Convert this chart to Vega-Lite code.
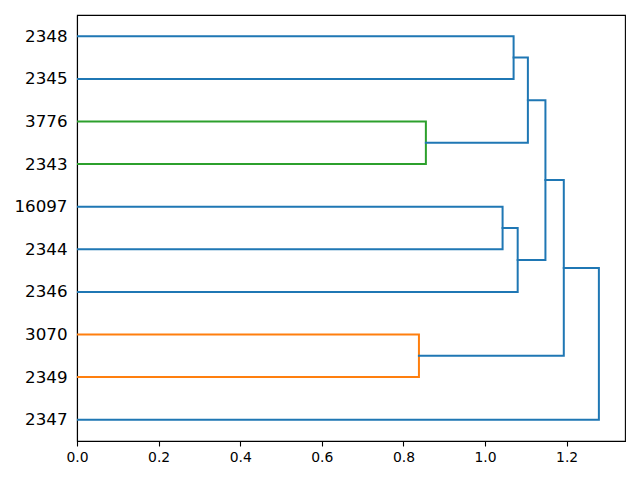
{
  "$schema": "https://vega.github.io/schema/vega-lite/v6.json",
  "width": 548,
  "height": 426,
  "autosize": {"type": "none"},
  "padding": {"left": 77, "top": 15, "right": 15, "bottom": 39},
  "background": "white",
  "config": {
    "view": {"stroke": "black", "strokeWidth": 1.1},
    "font": "DejaVu Sans",
    "axis": {"grid": false, "domainColor": "black", "domainWidth": 1.1, "tickColor": "black", "tickWidth": 1.1, "labelColor": "black", "labelFont": "DejaVu Sans", "title": null}
  },
  "data": {
    "values": [
      {"link": 1, "ord": 1, "h": 0, "pos": 15, "group": "C1"},
      {"link": 1, "ord": 2, "h": 0.838, "pos": 15, "group": "C1"},
      {"link": 1, "ord": 3, "h": 0.838, "pos": 25, "group": "C1"},
      {"link": 1, "ord": 4, "h": 0, "pos": 25, "group": "C1"},
      {"link": 2, "ord": 1, "h": 0, "pos": 65, "group": "C2"},
      {"link": 2, "ord": 2, "h": 0.855, "pos": 65, "group": "C2"},
      {"link": 2, "ord": 3, "h": 0.855, "pos": 75, "group": "C2"},
      {"link": 2, "ord": 4, "h": 0, "pos": 75, "group": "C2"},
      {"link": 3, "ord": 1, "h": 0, "pos": 85, "group": "C0"},
      {"link": 3, "ord": 2, "h": 1.070, "pos": 85, "group": "C0"},
      {"link": 3, "ord": 3, "h": 1.070, "pos": 95, "group": "C0"},
      {"link": 3, "ord": 4, "h": 0, "pos": 95, "group": "C0"},
      {"link": 4, "ord": 1, "h": 0, "pos": 45, "group": "C0"},
      {"link": 4, "ord": 2, "h": 1.043, "pos": 45, "group": "C0"},
      {"link": 4, "ord": 3, "h": 1.043, "pos": 55, "group": "C0"},
      {"link": 4, "ord": 4, "h": 0, "pos": 55, "group": "C0"},
      {"link": 5, "ord": 1, "h": 0, "pos": 35, "group": "C0"},
      {"link": 5, "ord": 2, "h": 1.080, "pos": 35, "group": "C0"},
      {"link": 5, "ord": 3, "h": 1.080, "pos": 50, "group": "C0"},
      {"link": 5, "ord": 4, "h": 1.043, "pos": 50, "group": "C0"},
      {"link": 6, "ord": 1, "h": 0.855, "pos": 70, "group": "C0"},
      {"link": 6, "ord": 2, "h": 1.105, "pos": 70, "group": "C0"},
      {"link": 6, "ord": 3, "h": 1.105, "pos": 90, "group": "C0"},
      {"link": 6, "ord": 4, "h": 1.070, "pos": 90, "group": "C0"},
      {"link": 7, "ord": 1, "h": 1.080, "pos": 42.5, "group": "C0"},
      {"link": 7, "ord": 2, "h": 1.148, "pos": 42.5, "group": "C0"},
      {"link": 7, "ord": 3, "h": 1.148, "pos": 80, "group": "C0"},
      {"link": 7, "ord": 4, "h": 1.105, "pos": 80, "group": "C0"},
      {"link": 8, "ord": 1, "h": 0.838, "pos": 20, "group": "C0"},
      {"link": 8, "ord": 2, "h": 1.193, "pos": 20, "group": "C0"},
      {"link": 8, "ord": 3, "h": 1.193, "pos": 61.25, "group": "C0"},
      {"link": 8, "ord": 4, "h": 1.148, "pos": 61.25, "group": "C0"},
      {"link": 9, "ord": 1, "h": 0, "pos": 5, "group": "C0"},
      {"link": 9, "ord": 2, "h": 1.279, "pos": 5, "group": "C0"},
      {"link": 9, "ord": 3, "h": 1.279, "pos": 40.625, "group": "C0"},
      {"link": 9, "ord": 4, "h": 1.193, "pos": 40.625, "group": "C0"}
    ]
  },
  "mark": {"type": "line", "strokeWidth": 2, "strokeJoin": "miter", "strokeCap": "square", "clip": true},
  "encoding": {
    "x": {
      "field": "h", "type": "quantitative",
      "scale": {"domain": [0, 1.343], "nice": false, "zero": false},
      "axis": {"values": [0, 0.2, 0.4, 0.6, 0.8, 1.0, 1.2], "format": ".1f", "tickSize": 5, "labelPadding": 4, "labelFontSize": 13.9, "labelFlush": false}
    },
    "y": {
      "field": "pos", "type": "quantitative",
      "scale": {"domain": [0, 100], "nice": false, "zero": false},
      "axis": {"values": [5, 15, 25, 35, 45, 55, 65, 75, 85, 95], "ticks": false, "labelPadding": 10, "labelFontSize": 16.7,
        "labelExpr": "['2347','2349','3070','2346','2344','16097','2343','3776','2345','2348'][round((datum.value-5)/10)]"}
    },
    "detail": {"field": "link", "type": "nominal"},
    "order": {"field": "ord", "type": "quantitative"},
    "color": {
      "field": "group", "type": "nominal",
      "scale": {"domain": ["C0", "C1", "C2"], "range": ["#1f77b4", "#ff7f0e", "#2ca02c"]},
      "legend": null
    }
  }
}
